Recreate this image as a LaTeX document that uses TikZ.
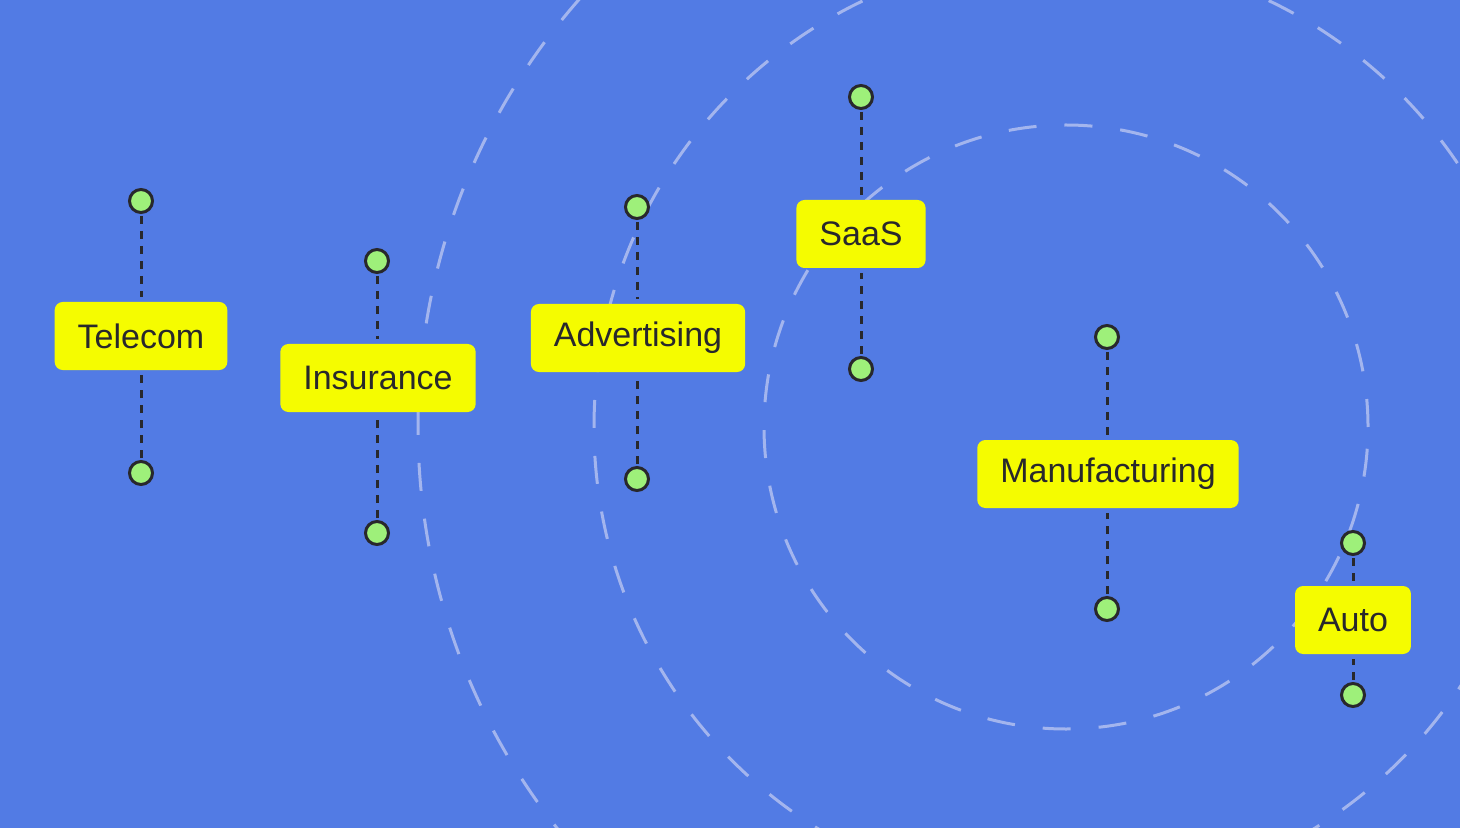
\documentclass[tikz,border=0pt]{standalone}
\usepackage{fontspec}
\setmainfont{Liberation Sans}
\usepackage{xcolor}
\usepackage{tikz}
\definecolor{bgblue}{RGB}{82,123,228}
\definecolor{ringcol}{RGB}{163,181,238}
\definecolor{tagyellow}{RGB}{245,252,0}
\definecolor{dotgreen}{RGB}{158,240,122}
\definecolor{inkdark}{RGB}{40,40,44}
\tikzset{
  tag/.style={fill=tagyellow,rounded corners=4pt,minimum height=34pt,inner xsep=11.5pt,
    text=inkdark,font=\fontsize{17}{20}\selectfont},
  pin/.style={circle,draw=inkdark,fill=dotgreen,line width=1.5pt,minimum size=11.5pt,inner sep=0pt},
  stem/.style={draw=inkdark,line width=1.5pt,dash pattern=on 4pt off 3.5pt,shorten >=2.5pt,shorten <=1pt},
  ring/.style={draw=ringcol,line width=1.5pt,dash pattern=on 14pt off 14pt}
}
\begin{document}
\begin{tikzpicture}[x=0.5pt,y=-0.5pt]
  \fill[bgblue] (0,0) rectangle (1460,828);
  \useasboundingbox (0,0) rectangle (1460,828);
  \begin{scope}
    \clip (0,0) rectangle (1460,828);
    \draw[ring] (1066,427) circle (151pt);
    \draw[ring] (1066,427) circle (236pt);
    \draw[ring] (1066,427) circle (324pt);
  \end{scope}
  \node[tag] (tel) at (141,336) {Telecom};
  \node[tag] (ins) at (378,378) {Insurance};
  \node[tag] (adv) at (638,338) {Advertising};
  \node[tag] (saas) at (861,234) {SaaS};
  \node[tag] (man) at (1108,474) {Manufacturing};
  \node[tag] (auto) at (1353,620) {Auto};
  \node[pin] (tel-a) at (141,201) {};
  \node[pin] (tel-b) at (141,473) {};
  \node[pin] (ins-a) at (377,261) {};
  \node[pin] (ins-b) at (377,533) {};
  \node[pin] (adv-a) at (637,207) {};
  \node[pin] (adv-b) at (637,479) {};
  \node[pin] (saas-a) at (861,97) {};
  \node[pin] (saas-b) at (861,369) {};
  \node[pin] (man-a) at (1107,337) {};
  \node[pin] (man-b) at (1107,609) {};
  \node[pin] (auto-a) at (1353,543) {};
  \node[pin] (auto-b) at (1353,695) {};
  \foreach \t in {tel,ins,adv,saas,man,auto}{
    \draw[stem] (\t-a) -- (\t-a |- \t.north);
    \draw[stem] (\t-b) -- (\t-b |- \t.south);
  }
\end{tikzpicture}
\end{document}
